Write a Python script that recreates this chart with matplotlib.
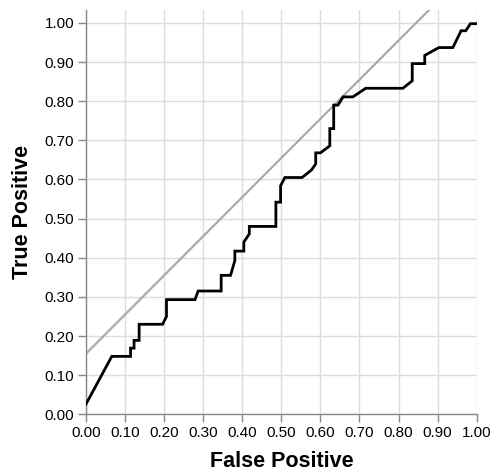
import numpy as np
import matplotlib.pyplot as plt

plt.rcParams['font.family'] = ['Liberation Sans', 'DejaVu Sans']

# ROC curve points
fpr = [0.0, 0.066, 0.114, 0.114, 0.123, 0.123, 0.136, 0.136, 0.196, 0.206, 0.206,
       0.279, 0.287, 0.346, 0.346, 0.37, 0.381, 0.381, 0.404, 0.404, 0.418, 0.418,
       0.486, 0.486, 0.498, 0.498, 0.509, 0.553, 0.577, 0.588, 0.588, 0.6, 0.624,
       0.624, 0.634, 0.634, 0.645, 0.658, 0.683, 0.716, 0.811, 0.835, 0.835, 0.867,
       0.867, 0.903, 0.939, 0.96, 0.972, 0.984, 0.999]
tpr = [0.026, 0.148, 0.148, 0.169, 0.169, 0.189, 0.189, 0.23, 0.23, 0.25, 0.293,
       0.293, 0.315, 0.315, 0.355, 0.355, 0.393, 0.417, 0.417, 0.44, 0.461, 0.48,
       0.48, 0.542, 0.542, 0.584, 0.605, 0.605, 0.624, 0.64, 0.668, 0.668, 0.686,
       0.73, 0.73, 0.79, 0.79, 0.811, 0.811, 0.833, 0.833, 0.852, 0.896, 0.896,
       0.917, 0.937, 0.937, 0.98, 0.98, 0.998, 0.998]

# reference line
ref_x = [0.0, 1.0]
ref_y = [0.155, 1.155]

ticks = np.round(np.arange(0, 1.01, 0.1), 2)
tick_labels = ['%.2f' % t for t in ticks]

fig = plt.figure(figsize=(4.9, 4.71), dpi=100)
ax = fig.add_axes([86 / 490, 1 - 414.3 / 471, 390.7 / 490, 404.3 / 471])

ax.plot(ref_x, ref_y, color='#aaaaaa', lw=1.6, zorder=2)
ax.plot(fpr, tpr, color='black', lw=2.0, zorder=3, solid_joinstyle='miter')

ax.set_xlim(0, 1.0)
ax.set_ylim(0, 1.033)
ax.set_xticks(ticks)
ax.set_xticklabels(tick_labels)
ax.set_yticks(ticks)
ax.set_yticklabels(tick_labels)
ax.grid(True, color='#dddddd', lw=1.0, zorder=0)
ax.set_axisbelow(True)

for s in ['top', 'right']:
    ax.spines[s].set_visible(False)
for s in ['left', 'bottom']:
    ax.spines[s].set_color('#888888')
    ax.spines[s].set_linewidth(1.0)
ax.tick_params(colors='#888888', length=6, width=1, labelcolor='black', labelsize=11, pad=2.5)

ax.set_xlabel('False Positive', fontsize=15.5, fontweight='bold', labelpad=8)
ax.set_ylabel('True Positive', fontsize=15.5, fontweight='bold', labelpad=8)

fig.savefig('out.png', dpi=100)
